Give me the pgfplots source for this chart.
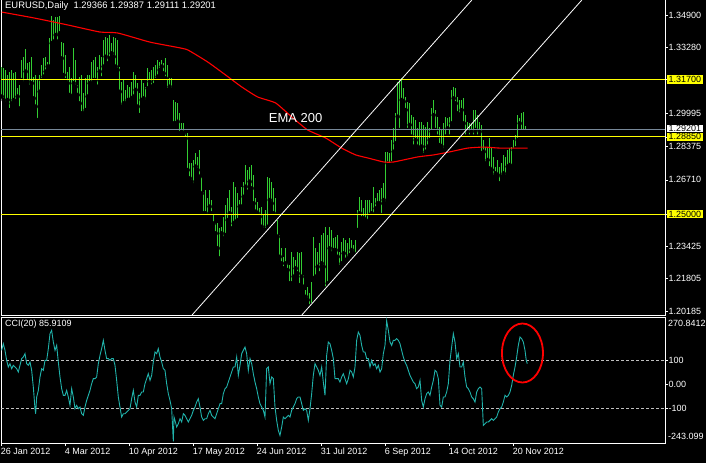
\documentclass[border=0pt]{standalone}
\usepackage{pgfplots}
\pgfplotsset{compat=1.18}
\usepackage{pgfplotstable}
\usepackage{fontspec}
\setmainfont{Liberation Sans}
\definecolor{barg}{RGB}{50,205,50}
\definecolor{ccic}{RGB}{32,178,170}
\definecolor{pline}{RGB}{119,136,153}
\definecolor{yel}{RGB}{255,255,0}
\newcommand\lbl{\fontsize{9}{10}\selectfont}

\pgfplotstableread{
i lo hi
0 1.3085 1.3234
1 1.3068 1.3225
2 1.3051 1.3217
3 1.3068 1.3192
4 1.3018 1.3209
5 1.3051 1.3217
6 1.3068 1.3200
7 1.3060 1.3209
8 1.3085 1.3126
9 1.3026 1.3142
10 1.3167 1.3267
11 1.3151 1.3283
12 1.3209 1.3320
13 1.3159 1.3250
14 1.3134 1.3258
15 1.3151 1.3283
16 1.3076 1.3184
17 1.3035 1.3192
18 1.2968 1.3167
19 1.3109 1.3192
20 1.3167 1.3242
21 1.3184 1.3275
22 1.3209 1.3283
23 1.3234 1.3258
24 1.3234 1.3374
25 1.3350 1.3485
26 1.3358 1.3466
27 1.3391 1.3482
28 1.3358 1.3482
29 1.3399 1.3485
30 1.3275 1.3358
31 1.3192 1.3350
32 1.3167 1.3292
33 1.3151 1.3209
34 1.3093 1.3234
35 1.3085 1.3176
36 1.3151 1.3325
37 1.3134 1.3267
38 1.3093 1.3142
39 1.3051 1.3184
40 1.3002 1.3192
41 1.3002 1.3101
42 1.3018 1.3176
43 1.3085 1.3192
44 1.3151 1.3192
45 1.3151 1.3258
46 1.3167 1.3267
47 1.3167 1.3283
48 1.3134 1.3234
49 1.3209 1.3292
50 1.3176 1.3283
51 1.3234 1.3366
52 1.3283 1.3383
53 1.3250 1.3374
54 1.3275 1.3391
55 1.3300 1.3350
56 1.3283 1.3383
57 1.3234 1.3374
58 1.3217 1.3366
59 1.3109 1.3234
60 1.3035 1.3159
61 1.3051 1.3167
62 1.3051 1.3118
63 1.3068 1.3142
64 1.3068 1.3134
65 1.3076 1.3159
66 1.3085 1.3209
67 1.3118 1.3192
68 1.3035 1.3151
69 1.2993 1.3101
70 1.3068 1.3167
71 1.3076 1.3151
72 1.3060 1.3134
73 1.3126 1.3225
74 1.3159 1.3209
75 1.3134 1.3217
76 1.3142 1.3234
77 1.3167 1.3242
78 1.3184 1.3267
79 1.3217 1.3258
80 1.3234 1.3267
81 1.3200 1.3250
82 1.3176 1.3275
83 1.3118 1.3242
84 1.3134 1.3176
85 1.3118 1.3176
86 1.2952 1.3068
87 1.2952 1.3060
88 1.2960 1.3051
89 1.2902 1.3002
90 1.2911 1.2952
91 1.2902 1.2952
92 1.2877 1.2902
93 1.2720 1.2902
94 1.2679 1.2753
95 1.2662 1.2753
96 1.2645 1.2770
97 1.2737 1.2803
98 1.2720 1.2786
99 1.2687 1.2819
100 1.2604 1.2687
101 1.2505 1.2612
102 1.2505 1.2621
103 1.2488 1.2579
104 1.2538 1.2621
105 1.2505 1.2571
106 1.2455 1.2496
107 1.2405 1.2455
108 1.2331 1.2455
109 1.2281 1.2430
110 1.2405 1.2438
111 1.2380 1.2488
112 1.2397 1.2546
113 1.2471 1.2579
114 1.2505 1.2621
115 1.2430 1.2538
116 1.2455 1.2662
117 1.2463 1.2637
118 1.2471 1.2604
119 1.2538 1.2571
120 1.2538 1.2637
121 1.2587 1.2662
122 1.2637 1.2745
123 1.2612 1.2720
124 1.2662 1.2737
125 1.2629 1.2745
126 1.2554 1.2695
127 1.2513 1.2579
128 1.2505 1.2563
129 1.2488 1.2529
130 1.2438 1.2538
131 1.2422 1.2496
132 1.2422 1.2521
133 1.2438 1.2687
134 1.2571 1.2679
135 1.2554 1.2662
136 1.2505 1.2629
137 1.2488 1.2579
138 1.2389 1.2471
139 1.2289 1.2397
140 1.2256 1.2331
141 1.2231 1.2289
142 1.2256 1.2331
143 1.2223 1.2256
144 1.2157 1.2248
145 1.2157 1.2314
146 1.2190 1.2289
147 1.2231 1.2273
148 1.2206 1.2314
149 1.2148 1.2306
150 1.2190 1.2314
151 1.2140 1.2198
152 1.2090 1.2123
153 1.2074 1.2140
154 1.2041 1.2107
155 1.2049 1.2165
156 1.2181 1.2389
157 1.2190 1.2331
158 1.2239 1.2314
159 1.2206 1.2355
160 1.2256 1.2397
161 1.2239 1.2405
162 1.2132 1.2438
163 1.2157 1.2397
164 1.2331 1.2438
165 1.2306 1.2422
166 1.2322 1.2380
167 1.2322 1.2389
168 1.2289 1.2397
169 1.2239 1.2314
170 1.2256 1.2364
171 1.2306 1.2380
172 1.2273 1.2372
173 1.2281 1.2355
174 1.2297 1.2380
175 1.2322 1.2372
176 1.2306 1.2347
177 1.2297 1.2372
178 1.2422 1.2521
179 1.2505 1.2587
180 1.2480 1.2571
181 1.2480 1.2529
182 1.2471 1.2571
183 1.2463 1.2571
184 1.2496 1.2571
185 1.2505 1.2554
186 1.2496 1.2637
187 1.2529 1.2579
188 1.2554 1.2604
189 1.2554 1.2621
190 1.2496 1.2629
191 1.2571 1.2654
192 1.2554 1.2811
193 1.2753 1.2811
194 1.2745 1.2803
195 1.2753 1.2869
196 1.2811 1.2927
197 1.2853 1.3002
198 1.2985 1.3159
199 1.2919 1.3167
200 1.3068 1.3176
201 1.3060 1.3126
202 1.3018 1.3085
203 1.2919 1.3060
204 1.2944 1.3051
205 1.2886 1.2993
206 1.2836 1.2985
207 1.2869 1.2969
208 1.2836 1.2927
209 1.2828 1.2960
210 1.2836 1.2960
211 1.2795 1.2944
212 1.2811 1.2935
213 1.2836 1.2960
214 1.2869 1.2927
215 1.2911 1.3027
216 1.2993 1.3068
217 1.2919 1.3018
218 1.2886 1.2985
219 1.2844 1.2935
220 1.2836 1.2919
221 1.2819 1.2952
222 1.2886 1.2985
223 1.2927 1.2977
224 1.2886 1.2985
225 1.2952 1.3118
226 1.3076 1.3134
227 1.3051 1.3126
228 1.3002 1.3085
229 1.2993 1.3068
230 1.3018 1.3068
231 1.2952 1.3076
232 1.2886 1.2993
233 1.2911 1.2960
234 1.2886 1.2952
235 1.2911 1.2952
236 1.2886 1.3018
237 1.2919 1.3018
238 1.2886 1.2993
239 1.2911 1.2960
240 1.2803 1.2944
241 1.2811 1.2869
242 1.2753 1.2836
243 1.2770 1.2836
244 1.2728 1.2877
245 1.2720 1.2836
246 1.2687 1.2786
247 1.2703 1.2737
248 1.2695 1.2770
249 1.2654 1.2737
250 1.2687 1.2753
251 1.2703 1.2795
252 1.2687 1.2786
253 1.2737 1.2819
254 1.2745 1.2828
255 1.2737 1.2836
256 1.2819 1.2869
257 1.2828 1.2894
258 1.2869 1.2993
259 1.2952 1.2977
260 1.2911 1.3002
261 1.2911 1.3010
262 1.2911 1.2939
}\bars

\pgfplotstableread{
i ema
0 1.3505
16 1.3476
33 1.3441
49 1.3406
58 1.3401
74 1.3356
87 1.3331
93 1.3317
103 1.3257
112 1.3192
120 1.3133
128 1.3083
137 1.3053
145 1.2984
153 1.2919
162 1.2879
170 1.2829
177 1.2795
183 1.2780
191 1.2760
196 1.2760
208 1.2785
216 1.2795
224 1.2810
233 1.2829
241 1.2834
249 1.2829
258 1.2829
263 1.2829
}\ema

\pgfplotstableread{
i v
0 142
0.83 170
1.67 142
2.5 100
3.33 72
4.17 86
5 65
5.83 79
6.67 72
7.5 65
8.33 51
9.17 79
10 107
10.83 114
11.67 128
12.5 86
13.33 79
14.17 93
15 58
15.83 -12
16.67 -103
17 -124
17.5 -54
18.33 -26
19.17 30
20 65
20.83 58
21.67 100
22.5 100
23.33 149
24.17 212
25 226
25.83 177
26.67 142
27.5 163
28.33 93
29.17 30
30 -19
30.83 -47
31.67 -47
32.5 -26
33.33 -54
34.17 -89
35 -19
35.83 -54
36.67 -103
37.5 -89
38.33 -103
39.17 -96
40 -124
40.83 -131
41.67 -96
42.5 -68
43.33 -47
44.17 -26
45 2
45.83 23
46.67 23
47.5 30
48.33 86
49.17 121
50 149
50.83 184
51.67 142
52.5 107
53.33 107
54.17 100
55 107
55.83 107
56.67 79
57.5 16
58.33 -54
59.17 -96
60 -138
60.83 -124
61.67 -124
62.5 -117
63.33 -110
64.17 -103
65 -61
65.83 -26
66.67 -75
67.5 -96
68.33 -47
69.17 -47
70 -33
70.83 -33
71.67 2
72.5 23
73.33 44
74.17 16
75 37
75.83 93
76.67 135
77.5 128
78.33 149
79.17 114
80 93
80.83 65
81.67 58
82.5 2
83.33 -40
84.17 -68
85 -103
85.83 -240
86.17 -138
86.67 -152
87.5 -180
88.33 -166
89.17 -145
90 -159
90.83 -124
91.67 -131
92.5 -145
93.33 -159
94.17 -145
95 -131
95.83 -110
96.67 -96
97.5 -75
98.33 -61
99.17 -96
100 -138
100.83 -152
101.67 -145
102.5 -145
103.33 -124
104.17 -110
105 -131
105.83 -138
106.67 -145
107.5 -124
108.33 -103
109.17 -82
110 -82
110.83 -40
111.67 -19
112.5 -12
113.33 9
114.17 30
115 51
115.83 72
116.67 72
117.5 114
118.33 37
119.17 79
120 128
120.83 142
121.67 156
122.5 128
123.33 58
124.17 107
125 86
125.83 44
126.67 9
127.5 -19
128.33 -54
129.17 -82
130 -96
130.83 -110
131.67 -138
132.5 65
133.33 72
134.17 2
135 30
135.83 23
136.67 -96
137.5 -152
138.33 -194
139.17 -215
140 -180
140.83 -138
141.67 -145
142.5 -138
143.33 -131
144.17 -138
145 -110
145.83 -96
146.67 -82
147.5 -61
148.33 -54
149.17 -54
150 -82
150.83 -110
151.67 -103
152.5 -110
153.33 -152
154.17 -103
155 -40
155.83 37
156.67 86
157.5 72
158.33 58
159.17 37
160 72
160.83 9
161.67 -47
162.5 121
163.33 177
164.17 170
165 142
165.83 107
166.67 23
167.5 23
168.33 23
169.17 9
170 30
170.83 44
171.67 23
172.5 2
173.33 23
174.17 58
175 51
175.83 30
176.67 72
177.5 184
178.33 219
179.17 205
180 163
180.83 135
181.67 135
182.5 107
183.33 107
184.17 72
185 100
185.83 79
186.67 86
187.5 65
188.33 79
189.17 51
190 65
190.83 128
191.67 163
192.5 266
193.33 226
194.17 177
195 163
195.83 184
196.67 184
197.5 191
198.33 184
199.17 170
200 142
200.83 114
201.67 93
202.5 79
203.33 58
204.17 37
205 23
205.83 9
206.67 2
207.5 -19
208.33 -12
209.17 16
210 -68
210.83 -96
211.67 -61
212.5 -40
213.33 -33
214.17 -47
215 -12
215.83 16
216.67 58
217.5 51
218.33 23
219.17 -89
220 -96
220.83 -54
221.67 -54
222.5 -33
223.33 2
224.17 100
225 156
225.83 212
226.67 177
227.5 107
228.33 128
229.17 72
230 72
230.83 93
231.67 30
232.5 -12
233.33 -19
234.17 -33
235 -54
235.83 -61
236.67 -75
237.5 -33
238.33 -19
239.17 -12
240 -19
240.83 -173
241.67 -166
242.5 -159
243.33 -159
244.17 -152
245 -145
245.83 -152
246.67 -145
247.5 -138
248.33 -117
249.17 -103
250 -96
250.83 -75
251.67 -47
252.5 -54
253.33 -47
254.17 -33
255 -5
255.83 37
256.67 72
257.5 114
258.33 163
259.17 198
260 191
260.83 177
261.67 142
262.3 100
262.8 86
}\cci

\begin{document}
\begin{tikzpicture}[x=1pt,y=1pt]
\useasboundingbox (0,0) rectangle (706,463);
\fill[black] (0,0) rectangle (706,463);

% ---------------- price panel ----------------
\begin{axis}[name=main, at={(1pt,148pt)}, anchor=south west,
  scale only axis, width=664pt, height=317pt,
  xmin=-0.33, xmax=331.67, ymin=1.19994, ymax=1.35749,
  clip mode=individual,
  axis line style={white, line width=0.8pt},
  tick style={white, line width=0.6pt}, tick align=outside, major tick length=3pt,
  xtick=\empty,
  ytick pos=right, yticklabel pos=right,
  ytick={1.349,1.3328,1.29995,1.28375,1.2671,1.23425,1.21805,1.20185},
  yticklabels={1.34900,1.33280,1.29995,1.28375,1.26710,1.23425,1.21805,1.20185},
  yticklabel style={text=white, font=\lbl, anchor=west, inner xsep=1.5pt, inner ysep=1pt, xshift=-1pt},
  extra y ticks={1.317,1.2885,1.25},
  extra y tick labels={1.31700,1.28850,1.25000},
  extra y tick style={yticklabel style={fill=yel, text=black}},
]
% OHLC high-low bars
\addplot[only marks, mark=none,
  error bars/.cd, y dir=plus, y explicit, error mark=none,
  error bar style={barg, line width=1pt}]
  table[x=i, y=lo, y error plus expr=\thisrow{hi}-\thisrow{lo}] {\bars};
% EMA 200
\addplot[red, line width=1.1pt, smooth, tension=0.3, mark=none] table[x=i, y=ema] {\ema};
% horizontal levels
\addplot[pline, line width=1pt, mark=none] coordinates {(-0.33,1.29201) (331.67,1.29201)};
\addplot[yel, line width=1pt, mark=none] coordinates {(-0.33,1.317) (331.67,1.317)};
\addplot[yel, line width=1pt, mark=none] coordinates {(-0.33,1.2885) (331.67,1.2885)};
\addplot[yel, line width=1pt, mark=none] coordinates {(-0.33,1.25) (331.67,1.25)};
% channel lines
\addplot[white, line width=0.8pt, mark=none] coordinates {(95.2,1.19994) (235.1,1.3565)};
\addplot[white, line width=0.8pt, mark=none] coordinates {(150.1,1.19994) (290.1,1.3565)};
% texts
\node[anchor=north west, text=white, font=\fontsize{9.4}{10}\selectfont, inner sep=0pt] at (axis cs:-0.33,1.3565) [xshift=4pt, yshift=-2pt] {EURUSD,Daily\ \ 1.29366 1.29387 1.29111 1.29201};
\node[text=white, font=\fontsize{13}{14}\selectfont, inner sep=0pt] at (axis cs:147,1.2979) {EMA 200};
\node[anchor=west, fill=white, text=black, font=\lbl, inner xsep=1.5pt, inner ysep=0.5pt] at (axis cs:331.67,1.29201) [xshift=2pt, yshift=1pt] {1.29201};
\node[anchor=west, fill=yel, text=black, font=\lbl, inner xsep=1.5pt, inner ysep=1pt] at (axis cs:331.67,1.2885) [xshift=2pt] {1.28850};
\end{axis}

% ---------------- CCI panel ----------------
\begin{axis}[name=cci, at={(1pt,20pt)}, anchor=south west,
  scale only axis, width=664pt, height=126pt,
  xmin=-0.33, xmax=331.67, ymin=-247, ymax=282,
  clip mode=individual,
  axis line style={white, line width=0.8pt},
  tick style={white, line width=0.6pt}, tick align=outside, major tick length=3pt,
  ytick pos=right, yticklabel pos=right,
  ytick={100,0,-100}, yticklabels={100,0.00,-100},
  yticklabel style={text=white, font=\lbl, anchor=west, inner xsep=1.5pt, inner ysep=1pt, xshift=-1pt},
  xtick pos=bottom,
  xtick={0,32,64,96,128,160,192,224,256},
  xticklabels={26 Jan 2012,4 Mar 2012,10 Apr 2012,17 May 2012,24 Jun 2012,31 Jul 2012,6 Sep 2012,14 Oct 2012,20 Nov 2012},
  xticklabel style={text=white, font=\lbl, anchor=north west, inner sep=1pt, xshift=-2pt, yshift=-1pt},
]
\addplot[white!75!black, line width=0.8pt, dash pattern=on 3pt off 2pt, mark=none] coordinates {(-0.33,100) (331.67,100)};
\addplot[white!75!black, line width=0.8pt, dash pattern=on 3pt off 2pt, mark=none] coordinates {(-0.33,-100) (331.67,-100)};
\addplot[ccic, line width=0.9pt, mark=none] table[x=i, y=v] {\cci};
\node[anchor=north west, text=white, font=\lbl, inner sep=0pt] at (rel axis cs:0,1) [xshift=4pt, yshift=-3pt] {CCI(20) 85.9109};
\node[anchor=north west, text=white, font=\lbl, inner sep=0pt] at (rel axis cs:1,1) [xshift=3pt, yshift=-3pt] {270.8412};
\node[anchor=south west, text=white, font=\lbl, inner sep=0pt] at (rel axis cs:1,0) [xshift=3pt, yshift=3pt] {-243.099};
\draw[red, line width=1.8pt] (axis cs:260.4,130.8) ellipse [x radius=20.5pt, y radius=29.5pt];
\end{axis}
\end{tikzpicture}
\end{document}
